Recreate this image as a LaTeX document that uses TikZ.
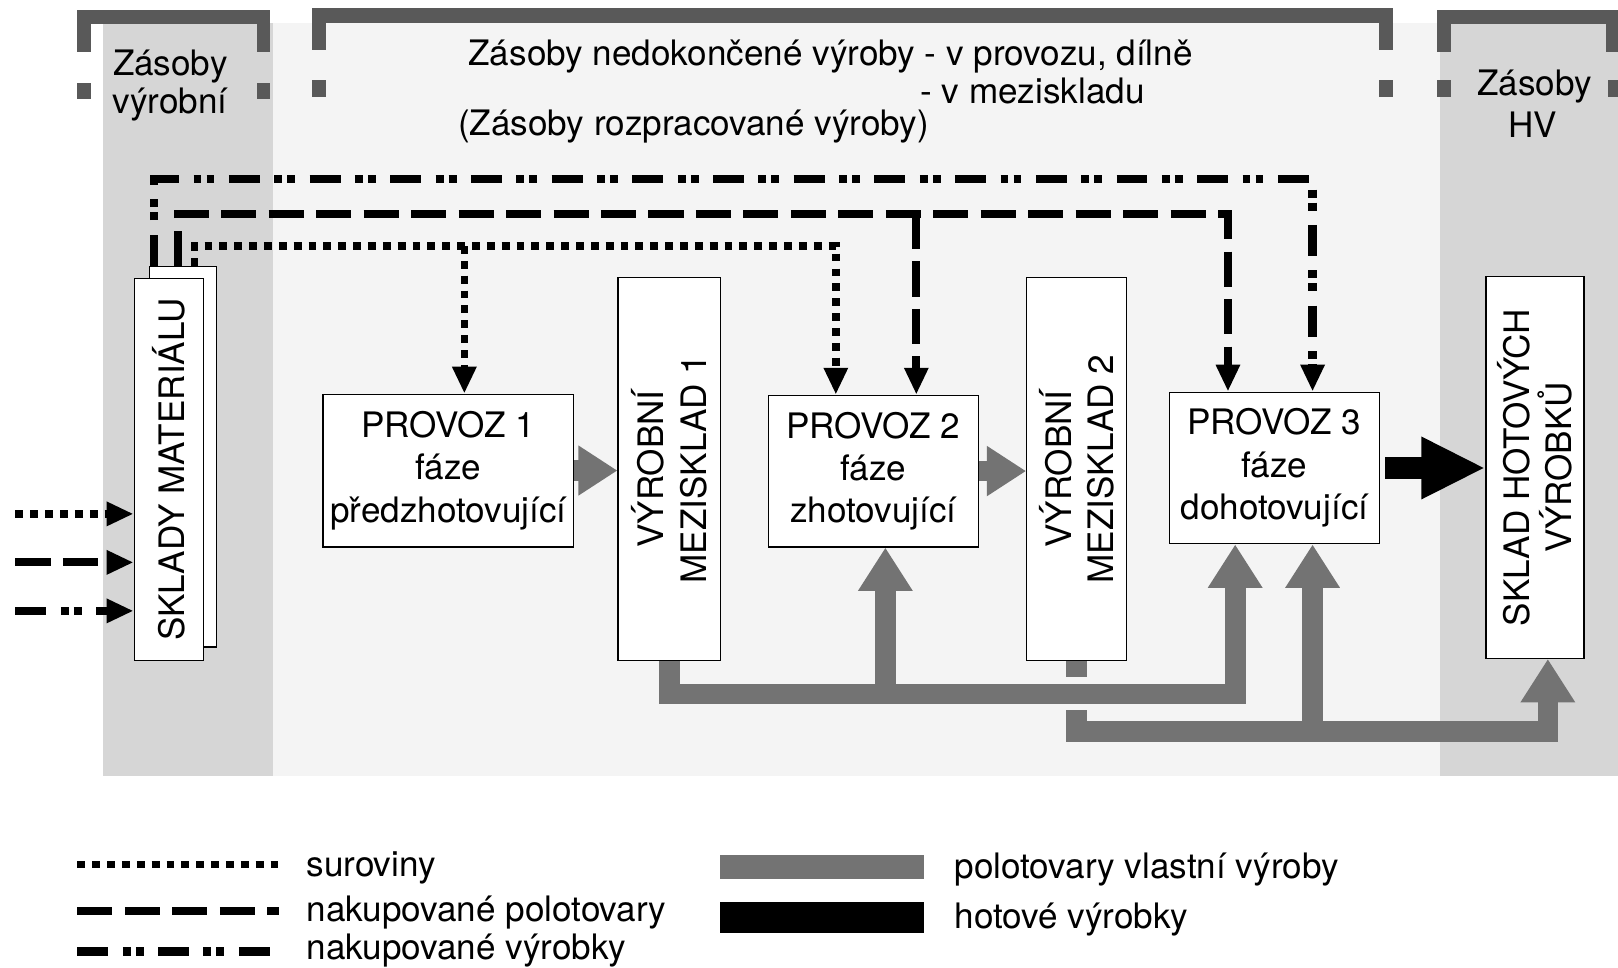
\documentclass[tikz,border=0pt]{standalone}
\usepackage{fontspec}
\setmainfont{TeX Gyre Heros}
\usetikzlibrary{arrows.meta,calc}

\definecolor{bandgray}{gray}{0.84}
\definecolor{midgray}{gray}{0.955}
\definecolor{flowgray}{gray}{0.45}
\definecolor{brkgray}{gray}{0.35}

\tikzset{
  box/.style={draw, fill=white, line width=0.6pt, inner sep=0pt},
  lbl/.style={inner sep=0pt, align=center},
  sur/.style={line width=3.6pt, dash pattern=on 3.8pt off 3.4pt},
  npol/.style={line width=3.8pt, dash pattern=on 17pt off 6pt},
  nvyr/.style={line width=4pt, dash pattern=on 15pt off 7pt on 3.8pt off 2.5pt on 3.8pt off 7pt},
  tip/.style={-{Triangle[width=11pt,length=13pt]}},
  gflow/.style={draw=flowgray, line width=10pt, line join=miter},
  gtipv/.style={-{Triangle[width=25pt,length=21pt]}},
  gtiph/.style={-{Triangle[width=23pt,length=19pt]}},
  brk/.style={fill=brkgray},
}

\begin{document}
\begin{tikzpicture}[x=0.5pt, y=-0.5pt, every node/.style={font=\fontsize{17}{20.5}\selectfont}]
\useasboundingbox (0,0) rectangle (1568,938);

% stock zones
\fill[midgray] (262,22) rectangle (1395,752);
\fill[bandgray] (100,22) rectangle (265,752);
\fill[bandgray] (1395,22) rectangle (1568,752);

% zone brackets
\fill[brk] (75,10) rectangle (262,23);
\fill[brk] (75,10) rectangle (88,50);
\fill[brk] (249,10) rectangle (262,50);
\fill[brk] (75,80) rectangle (88,96);
\fill[brk] (249,80) rectangle (262,96);

\fill[brk] (302,8) rectangle (1350,22);
\fill[brk] (302,8) rectangle (316,48);
\fill[brk] (1336,8) rectangle (1350,48);
\fill[brk] (302,78) rectangle (316,94);
\fill[brk] (1336,78) rectangle (1350,94);

\fill[brk] (1393,10) rectangle (1568,23);
\fill[brk] (1393,10) rectangle (1406,50);
\fill[brk] (1556,10) rectangle (1568,50);
\fill[brk] (1393,78) rectangle (1406,94);
\fill[brk] (1558,78) rectangle (1568,94);

% zone titles
\node[anchor=base] (zv1) at (165,73) {Zásoby};
\node[anchor=base] (zv2) at (165,110) {výrobní};
\node[anchor=base west] (zn1) at (447,63) {Zásoby nedokončené výroby - v provozu, dílně};
\node[anchor=base west] (zn2) at (885,100) {- v meziskladu};
\node[anchor=base west] (zn3) at (437,131) {(Zásoby rozpracované výroby)};
\node[anchor=base] (zh1) at (1487,93) {Zásoby};
\node[anchor=base] (zh2) at (1485,133) {HV};

% stores and workshops
\node[box, minimum width=32.5pt, minimum height=184.5pt] (skb) at (177.5,442.5) {};
\node[box, minimum width=33.5pt, minimum height=185pt] (skf) at (163.5,455) {};
\node[lbl, rotate=90] (skt) at (skf.center) {SKLADY MATERIÁLU};

\node[box, minimum width=121.5pt, minimum height=74pt, align=center] (p1) at (434.5,456) {PROVOZ 1\\fáze\\předzhotovující};
\node[box, minimum width=49.5pt, minimum height=185.5pt] (m1) at (648.5,454.5) {};
\node[lbl, rotate=90] (m1t) at (m1.center) {VÝROBNÍ\\MEZISKLAD 1};

\node[box, minimum width=101.5pt, minimum height=73.5pt, align=center] (p2) at (846.5,456.5) {PROVOZ 2\\fáze\\zhotovující};
\node[box, minimum width=48.5pt, minimum height=185.5pt] (m2) at (1043.5,454.5) {};
\node[lbl, rotate=90] (m2t) at (m2.center) {VÝROBNÍ\\MEZISKLAD 2};

\node[box, minimum width=102pt, minimum height=73.5pt, align=center] (p3) at (1235,453.5) {PROVOZ 3\\fáze\\dohotovující};
\node[box, minimum width=47.5pt, minimum height=185pt] (hv) at (1487.5,453) {};
\node[lbl, rotate=90] (hvt) at (hv.center) {SKLAD HOTOVÝCH\\VÝROBKŮ};

% incoming material
\coordinate (in1) at (15,498);
\coordinate (in2) at (15,545);
\coordinate (in3) at (15,592);
\draw[sur, tip] (in1) -- (in1 -| skf.west);
\draw[npol, tip] (in2) -- (in2 -| skf.west);
\draw[nvyr, tip] (in3) -- (in3 -| skf.west);

% material issue to workshops
\draw[nvyr, tip] ($(skb.north west)+(5,0)$) -- ++(0,-84) -| ($(p3.north)+(37,0)$);
\draw[npol, tip] ($(skb.north west)+(28,0)$) -- ++(0,-50) -| ($(p3.north)+(-45,0)$);
\draw[npol, tip] ($(p2.north)+(41.5,-175)$) -- ($(p2.north)+(41.5,0)$);
\draw[sur, tip] ($(skb.north west)+(44,0)$) -- ++(0,-19) -| ($(p2.north)+(-36.5,0)$);
\draw[sur, tip] ($(p1.north)+(15.5,-143)$) -- ($(p1.north)+(15.5,0)$);

% own semi-products
\draw[gflow, gtiph] (p1.east) -- (p1.east -| m1.west);
\draw[gflow, gtiph] (p2.east) -- (p2.east -| m2.west);

\draw[gflow, gtipv] (m2.south) -- ++(0,68) -| ($(hv.south)+(12.5,0)$);
\draw[gflow, gtipv] ($(p3.south)+(37,181)$) -- ($(p3.south)+(37,0)$);
\fill[midgray] (1030,656) rectangle (1057,688);
\draw[gflow, gtipv] (m1.south) -- ++(0,32) -| ($(p3.south)+(-38,0)$);
\draw[gflow, gtipv] ($(p2.south)+(11.5,142)$) -- ($(p2.south)+(11.5,0)$);

% finished products
\draw[line width=11pt, -{Triangle[width=28pt,length=31pt]}, shorten <=2.5pt] (p3.east) -- (p3.east -| hv.west);

% legend
\coordinate (la1) at (75,838);  \coordinate (lb1) at (270,838);
\coordinate (la2) at (75,883);  \coordinate (lb2) at (270,883);
\coordinate (la3) at (75,922);  \coordinate (lb3) at (270,922);
\draw[sur] (la1) -- (lb1);
\draw[npol] (la2) -- (lb2);
\draw[nvyr] (la3) -- (lb3);
\node[anchor=base west] (lt1) at (290,849) {suroviny};
\node[anchor=base west] (lt2) at (290,893) {nakupované polotovary};
\node[anchor=base west] (lt3) at (290,930) {nakupované výrobky};

\coordinate (la4) at (698,840.5); \coordinate (lb4) at (895,840.5);
\coordinate (la5) at (698,889);   \coordinate (lb5) at (895,889);
\draw[draw=flowgray, line width=11.5pt] (la4) -- (lb4);
\draw[line width=15pt] (la5) -- (lb5);
\node[anchor=base west] (lt4) at (918,851) {polotovary vlastní výroby};
\node[anchor=base west] (lt5) at (918,900) {hotové výrobky};
\end{tikzpicture}
\end{document}
